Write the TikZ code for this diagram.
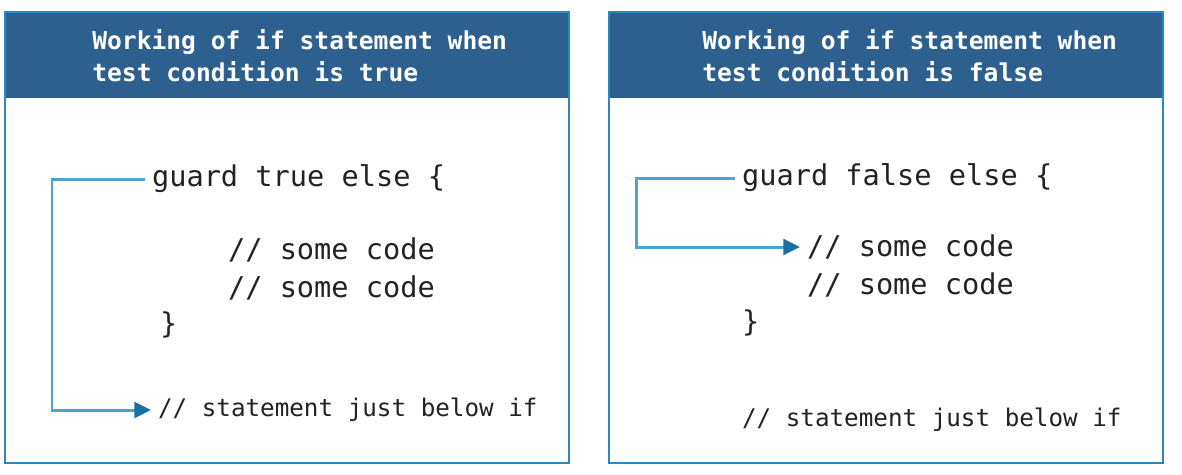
\documentclass[tikz,border=0pt]{standalone}
\usepackage{fontspec}
\setmonofont{DejaVu Sans Mono}
\usetikzlibrary{arrows.meta}
\definecolor{headblue}{HTML}{2D5F8F}
\definecolor{frameblue}{HTML}{2B88C2}
\definecolor{lineblue}{HTML}{4BA3CF}
\definecolor{tipblue}{HTML}{1C6FA3}
\definecolor{codegray}{HTML}{222222}
\begin{document}
\begin{tikzpicture}[x=0.02cm,y=-0.02cm,
  panel/.style={draw=frameblue,line width=1.6pt},
  head/.style={fill=headblue},
  title/.style={anchor=west,align=left,text=white,inner sep=0pt,
    font=\ttfamily\bfseries\fontsize{14}{18.2}\selectfont},
  code/.style={anchor=west,inner sep=0pt,outer xsep=4pt,text=codegray,
    font=\ttfamily\fontsize{16.3}{20}\selectfont},
  note/.style={code,font=\ttfamily\fontsize{13.8}{17}\selectfont},
  flow/.style={draw=lineblue,line width=1.7pt,
    -{Triangle[length=9.5pt,width=9pt,color=tipblue]}}]

\useasboundingbox (0,0) rectangle (1182,474);

% Panel 1: condition true
\fill[head] (5,12) rectangle (569,98);
\draw[panel] (5,12) rectangle (569,463);
\node[title] (titleT) at (92,56) {Working of if statement when\\test condition is true};
\node[code] (guardT) at (145,179) {guard true else \{};
\node[code] (someT1) at (221,250) {// some code};
\node[code] (someT2) at (221,288) {// some code};
\node[code] (closeT) at (153,325) {\}};
\node[note] (stmtT) at (151,410) {// statement just below if};
\coordinate (bendT) at (52,179);
\draw[flow] (guardT.west) -- (bendT) |- (stmtT.west);

% Panel 2: condition false
\fill[head] (609,12) rectangle (1163,98);
\draw[panel] (609,12) rectangle (1163,463);
\node[title] (titleF) at (702,56) {Working of if statement when\\test condition is false};
\node[code] (guardF) at (735,178) {guard false else \{};
\node[code] (someF1) at (800,247) {// some code};
\node[code] (someF2) at (800,285) {// some code};
\node[code] (closeF) at (735,323) {\}};
\node[note] (stmtF) at (735,420) {// statement just below if};
\coordinate (bendF) at (636,178);
\draw[flow] (guardF.west) -- (bendF) |- (someF1.west);

\end{tikzpicture}
\end{document}
